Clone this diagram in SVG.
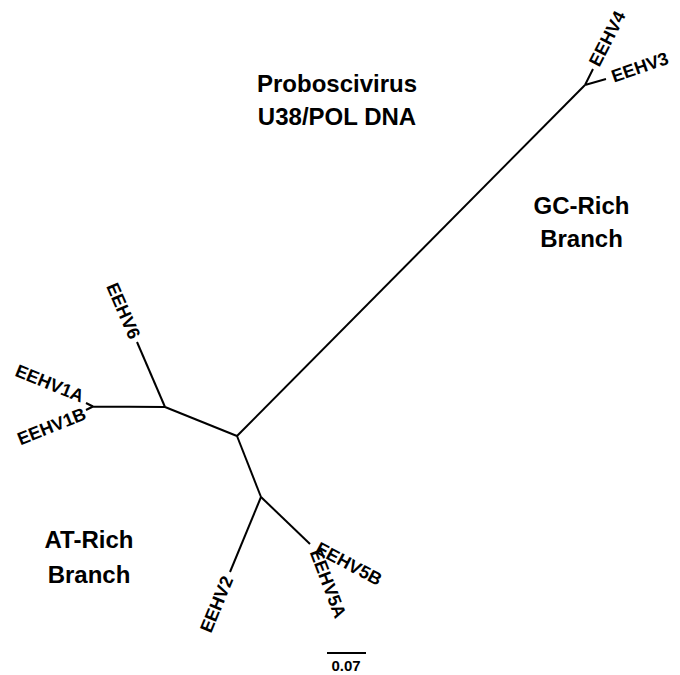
<svg xmlns="http://www.w3.org/2000/svg" width="680" height="675" viewBox="0 0 680 675">
<style>
.br{fill:none;stroke:#000;stroke-width:2;stroke-linecap:butt;stroke-linejoin:miter}
.lb{font-family:"Liberation Sans",Arial,sans-serif;font-weight:bold;font-size:18px;fill:#000;dominant-baseline:central}
.ttl{font-family:"Liberation Sans",Arial,sans-serif;font-weight:bold;font-size:24px;fill:#000;text-anchor:middle}
.sc{font-family:"Liberation Sans",Arial,sans-serif;font-weight:bold;font-size:15px;fill:#000;text-anchor:middle}
</style>
<rect width="680" height="675" fill="#fff"/>
<g id="connectors">
<path class="br" d="M237,436 L585,85"/>
<path class="br" d="M585,85 L593,69 M585,85 L606,79"/>
<path class="br" d="M237,436 L165,407"/>
<path class="br" d="M165,407 L137,342"/>
<path class="br" d="M165,407 L93,406.5 M93,406.5 L86,403 M93,406.5 L86,410"/>
<path class="br" d="M237,436 L261,497"/>
<path class="br" d="M261,497 L230,572"/>
<path class="br" d="M261,497 L310,544"/>
</g>
<g id="EEHV4"><text class="lb" transform="translate(594,65) rotate(-63)">EEHV4</text></g>
<g id="EEHV3"><text class="lb" transform="translate(612,77) rotate(-19)">EEHV3</text></g>
<g id="EEHV6"><text class="lb" text-anchor="end" transform="translate(135,338) rotate(66.5)">EEHV6</text></g>
<g id="EEHV1A"><text class="lb" text-anchor="end" transform="translate(83,397) rotate(22)">EEHV1A</text></g>
<g id="EEHV1B"><text class="lb" text-anchor="end" transform="translate(85,413) rotate(-22)">EEHV1B</text></g>
<g id="EEHV2"><text class="lb" text-anchor="end" transform="translate(228,577) rotate(-67.5)">EEHV2</text></g>
<g id="EEHV5B"><text class="lb" transform="translate(317,547) rotate(28)">EEHV5B</text></g>
<g id="EEHV5A"><text class="lb" transform="translate(315,550) rotate(69)">EEHV5A</text></g>
<g id="title">
<text class="ttl" x="337" y="92">Proboscivirus</text>
<text class="ttl" x="337" y="125">U38/POL DNA</text>
</g>
<g id="gc-rich">
<text class="ttl" x="581.5" y="214">GC-Rich</text>
<text class="ttl" x="581.5" y="247">Branch</text>
</g>
<g id="at-rich">
<text class="ttl" x="89" y="548">AT-Rich</text>
<text class="ttl" x="89" y="583">Branch</text>
</g>
<g id="scale">
<path class="br" d="M327,653 L366,653"/>
<text class="sc" x="346" y="671">0.07</text>
</g>
</svg>
